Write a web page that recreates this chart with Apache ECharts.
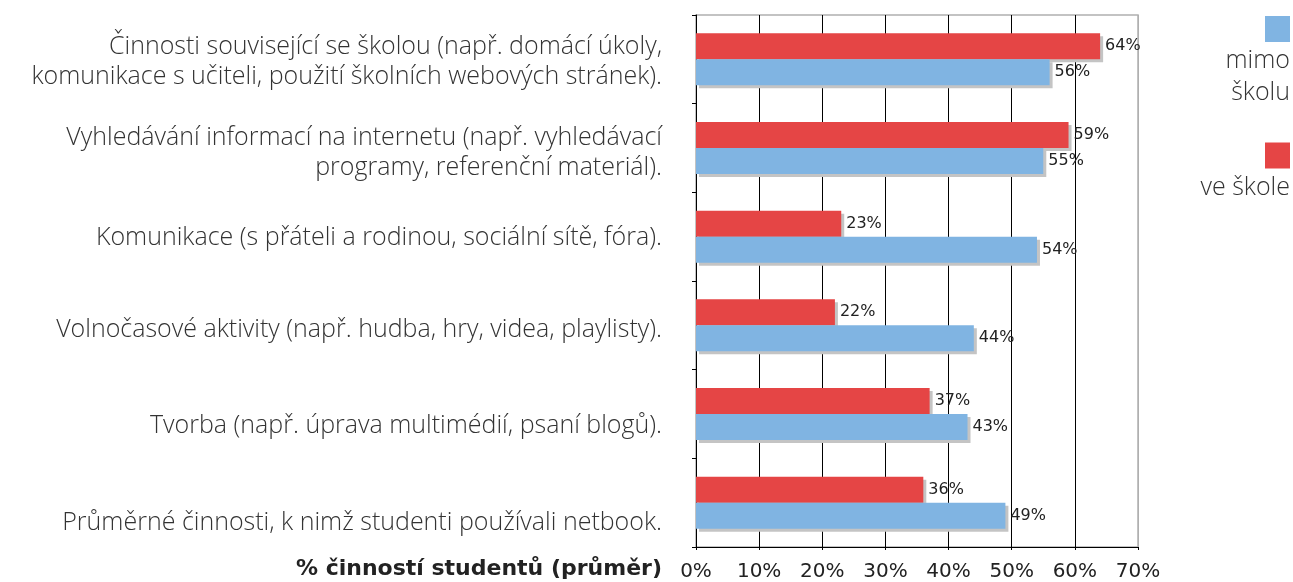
<!DOCTYPE html>
<html>
<head>
<meta charset="utf-8">
<script src="https://cdn.jsdelivr.net/npm/echarts@6/dist/echarts.min.js"></script>
<style>
  html, body { margin: 0; padding: 0; background: #fff; }
  #graf { width: 1293px; height: 582px; }
</style>
</head>
<body>
<div id="graf"></div>
<script>
// kategorie odshora dolu
const kategorie = [
    'Činnosti související se školou (např. domácí úkoly,\nkomunikace s učiteli, použití školních webových stránek).',
    'Vyhledávání informací na internetu (např. vyhledávací\nprogramy, referenční materiál).',
    'Komunikace (s přáteli a rodinou, sociální sítě, fóra).',
    'Volnočasové aktivity (např. hudba, hry, videa, playlisty).',
    'Tvorba (např. úprava multimédií, psaní blogů).',
    'Průměrné činnosti, k nimž studenti používali netbook.'
];
const mimoSkolu = [56, 55, 54, 44, 43, 49];
const veSkole = [64, 59, 23, 22, 37, 36];
const osaX = [0, 10, 20, 30, 40, 50, 60, 70];
// posun popisku dolu (px), v predloze nejsou uplne na stredu
const posun = [3, 5, 1, 5, 12, 20];

const barvaModra = '#80b4e2';
const barvaCervena = '#e54545';
const pismo = '"Open Sans", "Liberation Sans", sans-serif';

let graf = echarts.init(document.getElementById('graf'));

const stin = {
    shadowColor: '#c4c4c4',
    shadowBlur: 0,
    shadowOffsetX: 3,
    shadowOffsetY: 3
};

const popisek = {
    show: true,
    position: 'right',
    distance: 5,
    formatter: '{c}%',
    fontFamily: 'DejaVu Sans',
    fontSize: 16,
    color: '#222'
};

// rich styly pro popisky kategorii: prazdny radek g0..g5 posune text dolu
let richKat = {
    t: {fontFamily: pismo, fontWeight: 300, fontSize: 25, lineHeight: 30, color: '#333', align: 'right'}
};
posun.forEach((p, i) => {
    richKat['g' + i] = {lineHeight: Math.max(p * 2, 1), fontSize: 1, align: 'right'};
});

function katText(value, index) {
    let radky = value.split('\n').map(r => '{t|' + r + '}');
    return '{g' + index + '|}\n' + radky.join('\n');
}

function legendaText(name) {
    if (name === 'mimo školu') return '{sqB|}\n{t|mimo}\n{t|školu}';
    return '{sqR|}\n{t|ve škole}';
}

let option = {
    animation: false,
    title: {
        text: '% činností studentů (průměr)',
        right: 631,
        top: 558,
        padding: 0,
        textStyle: {
            fontFamily: 'DejaVu Sans',
            fontSize: 22,
            fontWeight: 'bold',
            color: '#222'
        }
    },
    legend: {
        orient: 'vertical',
        right: -2,
        top: 11,
        icon: 'none',
        itemWidth: 0,
        itemHeight: 0,
        itemGap: 37,
        data: ['mimo školu', 've škole'],
        formatter: legendaText,
        textStyle: {
            width: 92,
            rich: {
                sqB: {width: 25, height: 26, backgroundColor: barvaModra, lineHeight: 32, align: 'right'},
                sqR: {width: 25, height: 26, backgroundColor: barvaCervena, lineHeight: 32, align: 'right'},
                t: {fontFamily: pismo, fontWeight: 300, fontSize: 25, color: '#333', lineHeight: 32, align: 'right'}
            }
        }
    },
    grid: {
        left: 696,
        right: 155,
        top: 15,
        bottom: 34,
        show: true,
        borderColor: '#b0b0b0',
        borderWidth: 1.5
    },
    xAxis: {
        type: 'value',
        min: osaX[0],
        max: osaX[osaX.length - 1],
        interval: 10,
        axisLine: {show: true, lineStyle: {color: '#000', width: 1}},
        axisTick: {show: true, length: 3, lineStyle: {color: '#000'}},
        axisLabel: {
            formatter: '{value}%',
            margin: 15,
            fontFamily: 'DejaVu Sans',
            fontSize: 20,
            color: '#222'
        },
        splitLine: {
            show: true,
            lineStyle: {
                color: ['#000', '#000', '#000', '#000', '#000', '#000', '#000', '#b0b0b0'],
                width: 1
            }
        }
    },
    yAxis: {
        type: 'category',
        inverse: true,
        data: kategorie,
        axisLine: {show: true, lineStyle: {color: '#000', width: 1}},
        axisTick: {show: true, length: 4, lineStyle: {color: '#000'}},
        axisLabel: {
            margin: 34,
            formatter: katText,
            rich: richKat,
            align: 'right'
        }
    },
    series: [
        {
            name: 've škole',
            type: 'bar',
            z: 2,
            data: veSkole,
            barWidth: 26,
            barGap: '0%',
            itemStyle: Object.assign({color: barvaCervena}, stin),
            label: popisek
        },
        {
            name: 'mimo školu',
            type: 'bar',
            z: 3,
            data: mimoSkolu,
            barWidth: 26,
            barGap: '0%',
            itemStyle: Object.assign({color: barvaModra}, stin),
            label: popisek
        }
    ]
};

graf.setOption(option);
</script>
</body>
</html>
